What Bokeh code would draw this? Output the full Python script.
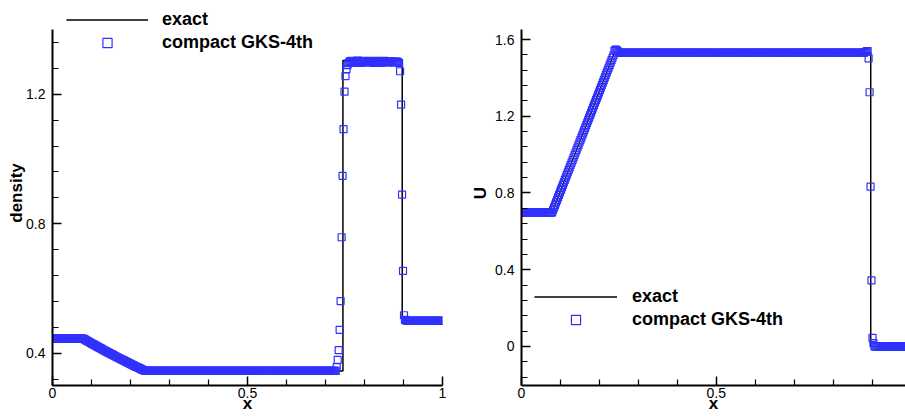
from bokeh.plotting import figure
from bokeh.models import (FixedTicker, CustomJSTickFormatter, Legend, LegendItem, Range1d)
from bokeh.layouts import row
from bokeh.embed import file_html
from bokeh.resources import INLINE

# ---------------- data ----------------
N_CELLS = 400
x_cells = [(i + 0.5) / N_CELLS for i in range(N_CELLS)]  # uniform mesh, cell centres

# exact solution (density)
rho_exact_x = [0.0, 0.0786, 0.10, 0.12, 0.14, 0.16, 0.18, 0.20, 0.22, 0.2383,
               0.7447, 0.7447, 0.8967, 0.8967, 1.0]
rho_exact = [0.445, 0.445, 0.4303, 0.4169, 0.4039, 0.3912, 0.3788, 0.3667, 0.3550, 0.3445,
             0.3445, 1.304, 1.304, 0.500, 0.500]

# exact solution (velocity U)
u_exact_x = [0.0, 0.0786, 0.2383, 0.8967, 0.8967, 1.0]
u_exact = [0.698, 0.698, 1.5294, 1.5294, 0.0, 0.0]

# numerical solution, compact GKS-4th (density)
rho_left_state = [0.445] * 31
rho_fan = [0.4449, 0.4432, 0.4415, 0.4397, 0.4380, 0.4363, 0.4346, 0.4329, 0.4312, 0.4295,
           0.4278, 0.4262, 0.4245, 0.4228, 0.4211, 0.4195, 0.4178, 0.4162, 0.4145, 0.4129,
           0.4113, 0.4096, 0.4080, 0.4064, 0.4047, 0.4031, 0.4015, 0.4000, 0.3984, 0.3968,
           0.3952, 0.3936, 0.3920, 0.3904, 0.3889, 0.3873, 0.3858, 0.3842, 0.3827, 0.3811,
           0.3796, 0.3781, 0.3766, 0.3750, 0.3735, 0.3720, 0.3705, 0.3690, 0.3675, 0.3660,
           0.3645, 0.3631, 0.3616, 0.3601, 0.3586, 0.3572, 0.3557, 0.3543, 0.3528, 0.3514,
           0.3499, 0.3485, 0.3471, 0.3456]
rho_star_left = [0.345] * 196
rho_contact = [0.357, 0.379, 0.409, 0.472, 0.561, 0.758, 0.948, 1.092, 1.208, 1.256, 1.277, 1.290]
rho_star_right = [1.296, 1.300, 1.302, 1.303, 1.301, 1.298, 1.297, 1.299, 1.302, 1.304,
                  1.303, 1.300, 1.298, 1.297, 1.299, 1.301, 1.303, 1.302, 1.300, 1.298,
                  1.298, 1.300, 1.302, 1.303, 1.301, 1.299, 1.297, 1.298, 1.300, 1.302,
                  1.303, 1.302, 1.299, 1.297, 1.298, 1.300, 1.302, 1.303, 1.301, 1.299,
                  1.298, 1.299, 1.301, 1.302, 1.302, 1.300, 1.298, 1.298, 1.300, 1.301,
                  1.301, 1.299, 1.296]
rho_shock = [1.271, 1.168, 0.890, 0.654, 0.517]
rho_right_state = [0.503, 0.501] + [0.500] * 37
rho_num = (rho_left_state + rho_fan + rho_star_left + rho_contact +
           rho_star_right + rho_shock + rho_right_state)

# numerical solution, compact GKS-4th (velocity U)
u_left_state = [0.698] * 31
u_fan = [0.699, 0.712, 0.725, 0.738, 0.751, 0.764, 0.777, 0.790, 0.803, 0.816,
         0.829, 0.842, 0.855, 0.868, 0.881, 0.894, 0.907, 0.920, 0.933, 0.946,
         0.959, 0.972, 0.985, 0.998, 1.011, 1.024, 1.037, 1.050, 1.063, 1.076,
         1.089, 1.102, 1.115, 1.128, 1.141, 1.154, 1.167, 1.180, 1.193, 1.206,
         1.219, 1.232, 1.245, 1.258, 1.271, 1.284, 1.297, 1.310, 1.323, 1.336,
         1.349, 1.362, 1.375, 1.388, 1.401, 1.414, 1.427, 1.440, 1.453, 1.466,
         1.479, 1.492, 1.505, 1.518]
u_star = [1.541, 1.548, 1.546, 1.540, 1.535, 1.532] + [1.531] * 251 + [1.533, 1.536, 1.538, 1.540]
u_shock = [1.502, 1.325, 0.833, 0.344, 0.045, 0.017]
u_right_state = [0.0] * 38
u_num = u_left_state + u_fan + u_star + u_shock + u_right_state

# axis extents (drawn axis lines) and visible ranges
rho_axis_bounds = (0.3, 1.4)
rho_view = (0.3, 1.4896)     # frame reaches up to the legend row above the axis
u_axis_bounds = (-0.2035, 1.652)
u_view = (-0.2035, 1.8033)
x_view_left = (0, 1)
x_view_right = (0, 0.986)

# ticks
x_ticks = [0, 0.5, 1]
x_minor = [0.1, 0.2, 0.3, 0.4, 0.6, 0.7, 0.8, 0.9]
rho_ticks = [0.4, 0.8, 1.2]
rho_minor = [0.32, 0.48, 0.56, 0.64, 0.72, 0.88, 0.96, 1.04, 1.12, 1.28, 1.36]
u_ticks = [0, 0.4, 0.8, 1.2, 1.6]
u_minor = [-0.16, -0.08, 0.08, 0.16, 0.24, 0.32, 0.48, 0.56, 0.64, 0.72,
           0.88, 0.96, 1.04, 1.12, 1.28, 1.36, 1.44, 1.52]

# ---------------- styling ----------------
FONT = "Liberation Sans"
SQ_COLOR = "#3030ff"
FMT = "return tick.toString();"


def style_axis(ax, ticks, minor, label, label_standoff, tick_standoff):
    ax.ticker = FixedTicker(ticks=ticks, minor_ticks=minor)
    ax.formatter = CustomJSTickFormatter(code=FMT)
    ax.axis_label = label
    ax.axis_label_text_font = FONT
    ax.axis_label_text_font_size = "17px"
    ax.axis_label_text_font_style = "bold"
    ax.axis_label_text_color = "black"
    ax.axis_label_standoff = label_standoff
    ax.major_label_text_font = FONT
    ax.major_label_text_font_size = "14px"
    ax.major_label_text_color = "black"
    ax.major_label_standoff = tick_standoff
    ax.axis_line_width = 2
    ax.axis_line_color = "black"
    ax.major_tick_in = 9
    ax.major_tick_out = 0
    ax.minor_tick_in = 6
    ax.minor_tick_out = 0
    ax.major_tick_line_width = 1.5
    ax.minor_tick_line_width = 1.2
    ax.major_tick_line_color = "black"
    ax.minor_tick_line_color = "black"


def make_fig(width, xr, yr, min_left, min_right):
    p = figure(width=width, height=416, x_range=Range1d(*xr), y_range=Range1d(*yr),
               output_backend="svg", toolbar_location=None,
               min_border_left=min_left, min_border_right=min_right,
               min_border_top=0, min_border_bottom=31)
    p.xgrid.visible = False
    p.ygrid.visible = False
    p.outline_line_color = None
    p.background_fill_color = "white"
    p.border_fill_color = "white"
    return p


def add_legend(p, line_r, sq_r, loc, gw, standoff):
    leg = Legend(items=[LegendItem(label="exact", renderers=[line_r]),
                        LegendItem(label="compact GKS-4th", renderers=[sq_r])],
                 location=loc, orientation="vertical", padding=0, margin=0, spacing=0,
                 glyph_width=gw, glyph_height=23, label_height=23, label_standoff=standoff,
                 label_text_font=FONT, label_text_font_size="18px",
                 label_text_font_style="bold", label_text_color="black",
                 border_line_color=None, background_fill_alpha=0)
    p.add_layout(leg)


# ---- left: density ----
p1 = make_fig(460, x_view_left, rho_view, 52, 18)
l1 = p1.line(rho_exact_x, rho_exact, line_color="black", line_width=1.5)
s1 = p1.scatter(x_cells, rho_num, marker="square", size=7, line_color=SQ_COLOR,
                fill_color=None, line_width=1.2)
style_axis(p1.xaxis[0], x_ticks, x_minor, "x", -7, 2)
style_axis(p1.yaxis[0], rho_ticks, rho_minor, "density", -3, 7)
p1.yaxis[0].bounds = rho_axis_bounds
add_legend(p1, l1, s1, (14, 331), 82, 14)

# ---- right: U ----
p2 = make_fig(445, x_view_right, u_view, 61, 0)
l2 = p2.line(u_exact_x, u_exact, line_color="black", line_width=1.5)
s2 = p2.scatter(x_cells, u_num, marker="square", size=7, line_color=SQ_COLOR,
                fill_color=None, line_width=1.2)
style_axis(p2.xaxis[0], x_ticks, x_minor, "x", -7, 2)
style_axis(p2.yaxis[0], u_ticks, u_minor, "U", 2, 7)
p2.yaxis[0].bounds = u_axis_bounds
add_legend(p2, l2, s2, (13, 54), 83, 15)

layout = row(p1, p2)
open("out.html", "w").write(file_html(layout, INLINE))
